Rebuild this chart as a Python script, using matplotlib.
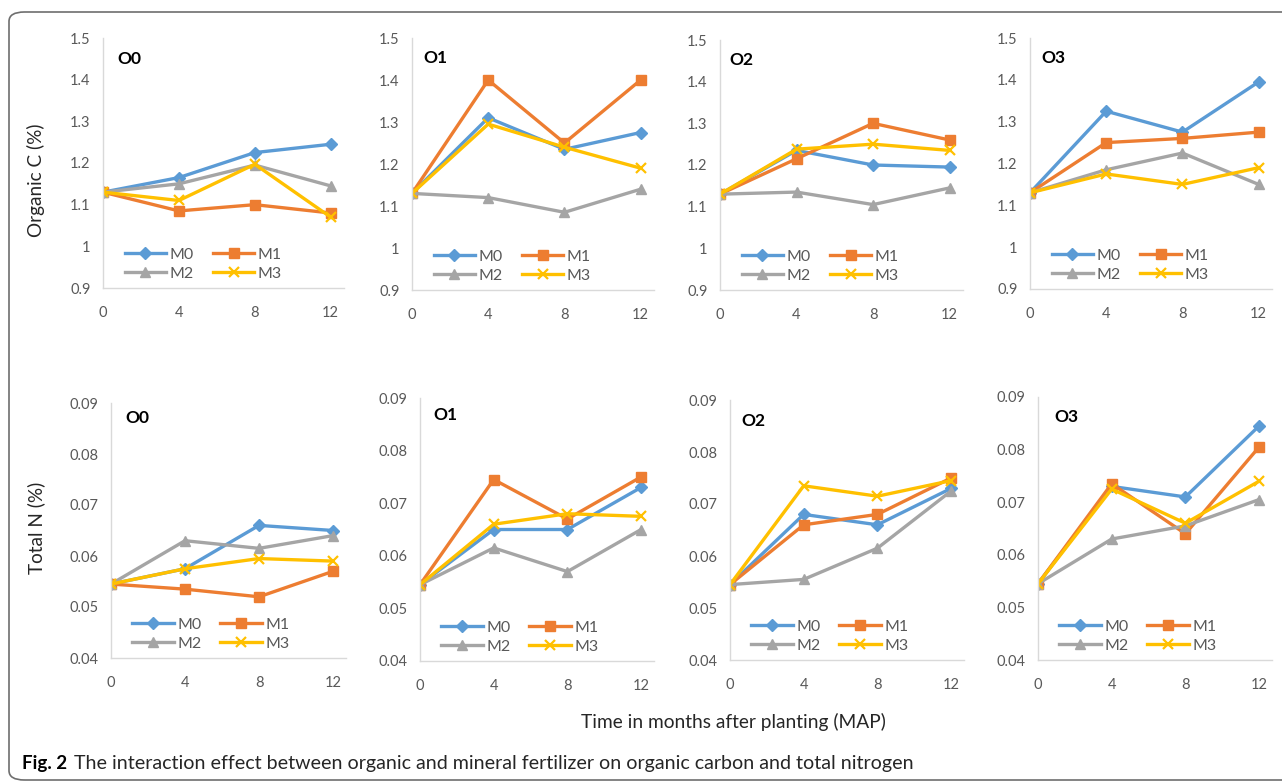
import matplotlib
matplotlib.use("Agg")
import matplotlib.pyplot as plt
from matplotlib.patches import FancyBboxPatch
from matplotlib.ticker import FuncFormatter

# x values (months after planting)
months = [0, 4, 8, 12]
series_names = ["M0", "M1", "M2", "M3"]
panel_names = ["O0", "O1", "O2", "O3"]

# organic carbon (%), one list per M series, one block per O panel
oc_o0 = [[1.13, 1.165, 1.225, 1.245],
         [1.13, 1.085, 1.10, 1.08],
         [1.13, 1.15, 1.195, 1.145],
         [1.13, 1.11, 1.197, 1.07]]
oc_o1 = [[1.13, 1.31, 1.235, 1.275],
         [1.13, 1.40, 1.25, 1.40],
         [1.13, 1.12, 1.085, 1.14],
         [1.13, 1.295, 1.24, 1.19]]
oc_o2 = [[1.13, 1.235, 1.20, 1.195],
         [1.13, 1.215, 1.30, 1.26],
         [1.13, 1.135, 1.105, 1.145],
         [1.13, 1.238, 1.25, 1.235]]
oc_o3 = [[1.13, 1.325, 1.275, 1.395],
         [1.13, 1.25, 1.26, 1.275],
         [1.13, 1.185, 1.225, 1.15],
         [1.13, 1.175, 1.15, 1.19]]

# total nitrogen (%)
tn_o0 = [[0.0545, 0.0575, 0.066, 0.065],
         [0.0545, 0.0535, 0.052, 0.057],
         [0.0545, 0.063, 0.0615, 0.064],
         [0.0545, 0.0575, 0.0595, 0.059]]
tn_o1 = [[0.0545, 0.065, 0.065, 0.073],
         [0.0545, 0.0745, 0.067, 0.075],
         [0.0545, 0.0615, 0.057, 0.065],
         [0.0545, 0.066, 0.068, 0.0675]]
tn_o2 = [[0.0545, 0.068, 0.066, 0.073],
         [0.0545, 0.066, 0.068, 0.075],
         [0.0545, 0.0555, 0.0615, 0.0725],
         [0.0545, 0.0735, 0.0715, 0.0745]]
tn_o3 = [[0.0545, 0.073, 0.071, 0.0845],
         [0.0545, 0.0735, 0.064, 0.0805],
         [0.0545, 0.063, 0.0655, 0.0705],
         [0.0545, 0.0725, 0.066, 0.074]]

oc_data = [oc_o0, oc_o1, oc_o2, oc_o3]
tn_data = [tn_o0, tn_o1, tn_o2, tn_o3]

colors = ["#5B9BD5", "#ED7D31", "#A5A5A5", "#FFC000"]
markers = ["D", "s", "^", "x"]
msizes = [6, 7, 7, 7]

W, H = 1282, 782
plt.rcParams["font.family"] = ["Lato", "DejaVu Sans"]

fig = plt.figure(figsize=(W / 100, H / 100), dpi=100)

# frame round the whole figure
frame = FancyBboxPatch((9 / W, 2 / H), 1.2, (H - 14) / H,
                       boxstyle="round,pad=0,rounding_size=0.012",
                       transform=fig.transFigure, fill=False,
                       edgecolor="#6E6E6E", linewidth=1.2, clip_on=False)
fig.patches.append(frame)

# axes boxes in pixels: left, top, right, bottom
top_boxes = [(103, 38, 344, 288), (412, 38, 654, 290),
             (720, 40, 963, 290), (1030, 38, 1272, 289)]
bot_boxes = [(111, 403, 346, 658), (420, 398, 654, 661),
             (730, 400, 964, 660), (1038, 397, 1272, 660)]


def make_ax(box):
    l, t, r, b = box
    return fig.add_axes([l / W, 1 - b / H, (r - l) / W, (b - t) / H])


def draw_panel(ax, data, name, ylim, yticks, title_xy):
    lines = []
    for i, vals in enumerate(data):
        ln, = ax.plot(months, vals, color=colors[i], marker=markers[i],
                      markersize=msizes[i],
                      markeredgewidth=1.6 if markers[i] == "x" else 1,
                      linewidth=2.4, label=series_names[i], solid_joinstyle="round")
        lines.append(ln)
    ax.set_xlim(0, 12.7)
    ax.set_ylim(*ylim)
    ax.set_xticks(months)
    ax.set_yticks(yticks)
    ax.yaxis.set_major_formatter(FuncFormatter(lambda v, p: "%g" % round(v, 3)))
    for s in ["top", "right"]:
        ax.spines[s].set_visible(False)
    for s in ["left", "bottom"]:
        ax.spines[s].set_color("#D9D9D9")
        ax.spines[s].set_linewidth(1)
    ax.tick_params(length=0, labelsize=10.5, colors="#595959")
    ax.tick_params(axis="x", pad=13)
    ax.tick_params(axis="y", pad=9)
    ax.text(title_xy[0], title_xy[1], name, transform=ax.transAxes,
            fontsize=12.5, fontweight="bold", va="center", ha="left", color="black")
    # legend filled row by row: M0 M1 / M2 M3
    order = [0, 2, 1, 3]
    ax.legend([lines[j] for j in order], [series_names[j] for j in order],
              loc="lower left", bbox_to_anchor=(0.05, -0.01), ncol=2, frameon=False,
              fontsize=11.5, handlelength=2.6, handletextpad=0.2, columnspacing=1.2,
              labelspacing=0.3, borderaxespad=0.2, labelcolor="#595959")


top_titles = [(0.058, 0.916), (0.045, 0.92), (0.04, 0.92), (0.045, 0.92)]
bot_titles = [(0.06, 0.94), (0.058, 0.935), (0.05, 0.92), (0.07, 0.925)]

for k in range(4):
    ax = make_ax(top_boxes[k])
    draw_panel(ax, oc_data[k], panel_names[k], (0.9, 1.5),
               [0.9, 1.0, 1.1, 1.2, 1.3, 1.4, 1.5], top_titles[k])
    ax = make_ax(bot_boxes[k])
    draw_panel(ax, tn_data[k], panel_names[k], (0.04, 0.09),
               [0.04, 0.05, 0.06, 0.07, 0.08, 0.09], bot_titles[k])


def fit_text(t, target, vertical=False):
    # scale font size so the text spans the target length in pixels
    fig.canvas.draw()
    bb = t.get_window_extent()
    span = bb.height if vertical else bb.width
    t.set_fontsize(t.get_fontsize() * target / span)


yl1 = fig.text(36 / W, 1 - 180 / H, "Organic C (%)", rotation=90, ha="center",
               va="center", fontsize=12.5, color="#262626")
yl2 = fig.text(36 / W, 1 - 528 / H, "Total N (%)", rotation=90, ha="center",
               va="center", fontsize=12.5, color="#262626")
fit_text(yl1, 114, vertical=True)
yl2.set_fontsize(yl1.get_fontsize())
xl = fig.text(733 / W, 1 - 722 / H, "Time in months after planting (MAP)",
              ha="center", va="center", fontsize=12.5, color="#262626")
fit_text(xl, 305)

# caption
cap1 = fig.text(22 / W, 1 - 763 / H, "Fig. 2", ha="left", va="center",
                fontsize=13.5, fontweight="bold", color="black")
fig.canvas.draw()
bb = cap1.get_window_extent()
cap2 = fig.text((bb.x1 + 7) / W, 1 - 763 / H,
                "The interaction effect between organic and mineral fertilizer on organic carbon and total nitrogen",
                ha="left", va="center", fontsize=12.5, color="#262626")
fit_text(cap2, 915 - bb.x1 - 7)

fig.savefig("out.png", dpi=100)
